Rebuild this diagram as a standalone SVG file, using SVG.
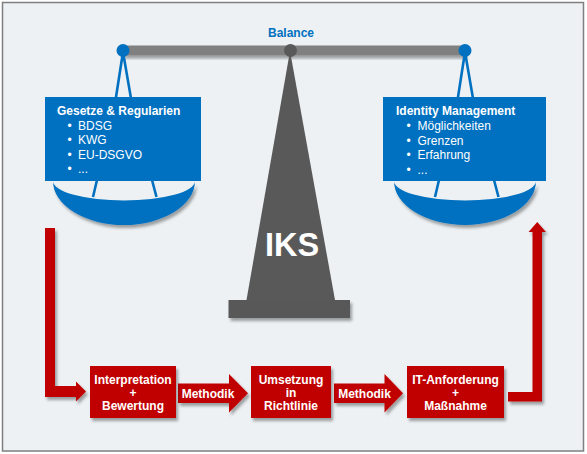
<svg xmlns="http://www.w3.org/2000/svg" width="587" height="454" viewBox="0 0 587 454">
<defs>
<filter id="sh" x="-20%" y="-20%" width="150%" height="160%">
<feDropShadow dx="2" dy="3" stdDeviation="1.6" flood-color="#000" flood-opacity="0.35"/>
</filter>
</defs>
<style>
text{font-family:"Liberation Sans",Arial,sans-serif;font-size:12px;fill:#fff}
.b{font-weight:bold}
.c{text-anchor:middle}
.blue{fill:#0070C0}
.red{fill:#C00000}
.dark{fill:#595959}
.str{stroke:#0070C0;stroke-width:2.6;fill:none}
</style>
<rect x="2.5" y="2.5" width="581" height="448.5" fill="#EDF1F3" stroke="#7F7F7F" stroke-width="1.5"/>

<g id="scale">
<text class="b c" x="291" y="36.5" style="fill:#0070C0">Balance</text>
<rect x="123" y="45.5" width="342" height="10" fill="#808080" filter="url(#sh)"/>
<polygon class="dark" points="290,51 335,300 246.5,300"/>
<rect class="dark" x="228.5" y="300" width="121.5" height="18" filter="url(#sh)"/>
<text class="b c" x="292" y="256" style="font-size:32.5px">IKS</text>
<path class="str" d="M123,52 L114,110 M123,52 L133,110 M97,180 L93,197 M152,180 L156.5,197"/>
<path class="blue" filter="url(#sh)" d="M53,181 A69,19 0 0 0 195,181 A71,44 0 0 1 53,181 Z"/>
<path class="str" d="M465,52 L456,110 M465,52 L475,110 M439,180 L435,197 M494,180 L498.5,197"/>
<path class="blue" filter="url(#sh)" d="M394,181 A69,19 0 0 0 536,181 A71,44 0 0 1 394,181 Z"/>
<circle class="blue" cx="123" cy="50.5" r="6.5"/>
<circle class="dark" cx="290.5" cy="50.5" r="6.5"/>
<circle class="blue" cx="465" cy="50.5" r="6.5"/>
</g>

<g id="gesetze">
<rect class="blue" x="45" y="97" width="156" height="84"/>
<text class="b" x="57" y="115">Gesetze &amp; Regularien</text>
<text x="67.5" y="129.5">•</text><text x="78" y="129.5">BDSG</text>
<text x="67.5" y="144">•</text><text x="78" y="144">KWG</text>
<text x="67.5" y="158.5">•</text><text x="78" y="158.5">EU-DSGVO</text>
<text x="67.5" y="173">•</text><text x="78" y="173">...</text>
</g>

<g id="identity">
<rect class="blue" x="383" y="97" width="163" height="84"/>
<text class="b" x="396" y="115">Identity Management</text>
<text x="406.5" y="130">•</text><text x="417.5" y="130">Möglichkeiten</text>
<text x="406.5" y="144.5">•</text><text x="417.5" y="144.5">Grenzen</text>
<text x="406.5" y="159">•</text><text x="417.5" y="159">Erfahrung</text>
<text x="406.5" y="173.5">•</text><text x="417.5" y="173.5">...</text>
</g>

<g id="connectors">
<path class="red" filter="url(#sh)" d="M45,228 H55 V386 H76 V381.5 L86,391.5 L76,401.5 V397 H45 Z"/>
<path class="red" filter="url(#sh)" d="M178,383.5 H229 V374 L248,393.25 L229,412.5 V403 H178 Z"/>
<text class="b c" x="208" y="397.5">Methodik</text>
<path class="red" filter="url(#sh)" d="M334,383.5 H384.5 V374 L403,393.25 L384.5,412.5 V403 H334 Z"/>
<text class="b c" x="364.5" y="397.5">Methodik</text>
<path class="red" filter="url(#sh)" d="M508,392 H532.5 V232 H528.5 L537.25,222 L546,232 H542 V401.5 H508 Z"/>
</g>

<g id="interpretation">
<rect class="red" x="90" y="366" width="86" height="52" filter="url(#sh)"/>
<text class="b c" x="133" y="383.5">Interpretation</text>
<text class="b c" x="133" y="396.5">+</text>
<text class="b c" x="133" y="409.5">Bewertung</text>
</g>

<g id="umsetzung">
<rect class="red" x="251" y="366" width="80" height="52" filter="url(#sh)"/>
<text class="b c" x="291" y="383.5">Umsetzung</text>
<text class="b c" x="291" y="396.5">in</text>
<text class="b c" x="291" y="409.5">Richtlinie</text>
</g>

<g id="anforderung">
<rect class="red" x="407" y="366" width="97" height="52" filter="url(#sh)"/>
<text class="b c" x="455.5" y="383.5">IT-Anforderung</text>
<text class="b c" x="455.5" y="396.5">+</text>
<text class="b c" x="455.5" y="409.5">Maßnahme</text>
</g>
</svg>
